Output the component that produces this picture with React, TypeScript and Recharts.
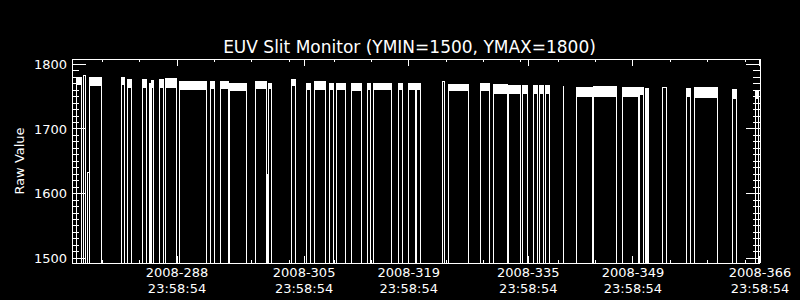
import React from 'react';
import { ComposedChart, Line, Area, XAxis, YAxis } from 'recharts';

// EUV slit monitor: white band segments, trace drops off-scale between them
const FLOOR = 1400;

// day of year 2008 (fractional) where each on-scale stretch starts / ends
const segStart = [
  275.54, 276.51, 277.08, 277.24, 281.5, 282.4, 284.44, 285.34, 285.52, 286.68,
  287.44, 289.36, 293.41, 294.75, 296.05, 299.44, 301.01, 301.18, 304.35, 306.36,
  307.43, 309.34, 310.38, 312.38, 314.43, 315.33, 318.67, 320.01, 321.08, 324.56,
  325.37, 329.65, 331.39, 333.4, 335.27, 336.65, 337.55, 338.35, 340.67, 342.41,
  344.69, 348.57, 350.9, 351.65, 354.02, 357.23, 358.3, 363.29, 366.37,
];
const segEnd = [
  276.2, 276.68, 277.22, 278.88, 281.9, 282.89, 284.9, 285.38, 285.78, 287.22,
  288.92, 292.93, 294.0, 295.88, 298.29, 300.96, 301.1, 301.58, 304.79, 306.85,
  308.81, 309.93, 311.49, 313.63, 314.89, 317.7, 319.17, 320.95, 321.62, 324.79,
  328.01, 330.82, 333.17, 334.97, 335.85, 337.24, 338.08, 338.85, 340.72, 344.55,
  347.82, 350.76, 351.47, 352.1, 354.46, 357.72, 361.34, 363.88, 366.83,
];
// upper / lower edge of the noisy band (raw value)
const segHi = [
  1779, 1782, 1632, 1779, 1780, 1777, 1777, 1770, 1775, 1777,
  1778, 1774, 1773, 1773, 1771, 1774, 1630, 1771, 1777, 1771,
  1774, 1771, 1771, 1771, 1771, 1771, 1771, 1771, 1771, 1773,
  1769, 1770, 1768, 1767, 1767, 1767, 1767, 1767, 1765, 1764,
  1765, 1764, 1764, 1762, 1764, 1763, 1764, 1761, 1758,
];
const segLo = [
  1768, 1782, 1632, 1766, 1768, 1763, 1763, 1770, 1763, 1763,
  1764, 1761, 1762, 1762, 1759, 1762, 1630, 1762, 1766, 1760,
  1760, 1760, 1761, 1759, 1760, 1760, 1760, 1760, 1760, 1773,
  1758, 1759, 1754, 1754, 1754, 1754, 1754, 1754, 1765, 1750,
  1750, 1750, 1752, 1400, 1764, 1750, 1748, 1747, 1746,
];

const majorDays = [288.999, 305.999, 319.999, 335.999, 349.999, 366.999];
const majorDates = ['2008-288', '2008-305', '2008-319', '2008-335', '2008-349', '2008-366'];
const majorTimes = ['23:58:54', '23:58:54', '23:58:54', '23:58:54', '23:58:54', '23:58:54'];
const minorDays = [279, 284, 294, 299, 304, 310, 315, 325, 330, 335, 340, 345, 355, 360, 365];

const yMajor = [1500, 1600, 1700, 1800];
const yMinor = [
  1510, 1520, 1530, 1540, 1550, 1560, 1570, 1580, 1590,
  1610, 1620, 1630, 1640, 1650, 1660, 1670, 1680, 1690,
  1710, 1720, 1730, 1740, 1750, 1760, 1770, 1780, 1790,
];

const X_DOMAIN = [274.94, 367.0];
const Y_DOMAIN = [1492.7, 1808.2];
const FONT = '"DejaVu Sans", Verdana, sans-serif';

const rows: { day: number; trace: number; band: number[] | null }[] = [];
segStart.forEach((s, i) => {
  const e = segEnd[i];
  const hi = segHi[i];
  const lo = segLo[i];
  rows.push({ day: s, trace: FLOOR, band: null });
  rows.push({ day: s, trace: hi, band: [lo, hi] });
  rows.push({ day: e, trace: hi, band: [lo, hi] });
  rows.push({ day: e, trace: FLOOR, band: null });
});

const xTicks = [...majorDays, ...minorDays].sort((a, b) => a - b);
const yTicks = [...yMajor, ...yMinor].sort((a, b) => a - b);

function BottomTick(props: any) {
  const { x, y, payload } = props;
  const i = majorDays.indexOf(payload.value);
  return (
    <g>
      <line x1={x} y1={y} x2={x} y2={y - (i >= 0 ? 7 : 3)} stroke="#fff" />
      {i >= 0 && (
        <text x={x} y={y} textAnchor="middle" fill="#fff" fontSize={13} fontFamily={FONT}>
          <tspan x={x} dy={14}>{majorDates[i]}</tspan>
          <tspan x={x} dy={15.5}>{majorTimes[i]}</tspan>
        </text>
      )}
    </g>
  );
}

function TopTick(props: any) {
  const { x, y, payload } = props;
  const major = majorDays.indexOf(payload.value) >= 0;
  return <line x1={x} y1={y} x2={x} y2={y + (major ? 7 : 3)} stroke="#fff" />;
}

function LeftTick(props: any) {
  const { x, y, payload } = props;
  const major = yMajor.indexOf(payload.value) >= 0;
  return (
    <g>
      <line x1={x} y1={y} x2={x + (major ? 14 : 7)} y2={y} stroke="#fff" />
      {major && (
        <text x={x - 5} y={y + 4.7} textAnchor="end" fill="#fff" fontSize={13} fontFamily={FONT}>
          {payload.value}
        </text>
      )}
    </g>
  );
}

function RightTick(props: any) {
  const { x, y, payload } = props;
  const major = yMajor.indexOf(payload.value) >= 0;
  return <line x1={x} y1={y} x2={x - (major ? 14 : 7)} y2={y} stroke="#fff" />;
}

export default function App() {
  return (
    <div
      style={{
        position: 'fixed',
        left: 0,
        top: 0,
        width: 800,
        height: 300,
        background: '#000',
        overflow: 'hidden',
      }}
    >
      <style>{'.recharts-surface path, .recharts-surface line { shape-rendering: crispEdges; }'}</style>
      <div
        style={{
          position: 'absolute',
          left: 0,
          width: 819,
          top: 37,
          textAlign: 'center',
          color: '#fff',
          fontFamily: FONT,
          fontSize: 17,
          lineHeight: '20px',
          whiteSpace: 'nowrap',
        }}
      >
        EUV Slit Monitor (YMIN=1500, YMAX=1800)
      </div>
      <div
        style={{
          position: 'absolute',
          left: 18.5,
          top: 161,
          transform: 'translate(-50%, -50%) rotate(-90deg)',
          color: '#fff',
          fontFamily: FONT,
          fontSize: 13,
          lineHeight: '13px',
          whiteSpace: 'nowrap',
        }}
      >
        Raw Value
      </div>
      <ComposedChart
        width={800}
        height={300}
        data={rows}
        margin={{ top: 0, right: 0, bottom: 0, left: 0 }}
        style={{ position: 'absolute', left: 0, top: 0 }}
      >
        <XAxis
          xAxisId="b"
          orientation="bottom"
          dataKey="day"
          type="number"
          domain={X_DOMAIN}
          allowDataOverflow
          ticks={xTicks}
          interval={0}
          height={37}
          tickSize={0}
          tickMargin={0}
          tickLine={false}
          axisLine={{ stroke: '#fff' }}
          tick={BottomTick}
        />
        <XAxis
          xAxisId="t"
          orientation="top"
          dataKey="day"
          type="number"
          domain={X_DOMAIN}
          allowDataOverflow
          ticks={xTicks}
          interval={0}
          height={59}
          tickSize={0}
          tickMargin={0}
          tickLine={false}
          axisLine={{ stroke: '#fff' }}
          tick={TopTick}
        />
        <YAxis
          yAxisId="l"
          orientation="left"
          type="number"
          domain={Y_DOMAIN}
          allowDataOverflow
          ticks={yTicks}
          interval={0}
          width={72}
          tickSize={0}
          tickMargin={0}
          tickLine={false}
          axisLine={{ stroke: '#fff' }}
          tick={LeftTick}
        />
        <YAxis
          yAxisId="r"
          orientation="right"
          type="number"
          domain={Y_DOMAIN}
          allowDataOverflow
          ticks={yTicks}
          interval={0}
          width={40}
          tickSize={0}
          tickMargin={0}
          tickLine={false}
          axisLine={{ stroke: '#fff' }}
          tick={RightTick}
        />
        <Area
          xAxisId="b"
          yAxisId="l"
          dataKey="band"
          type="linear"
          stroke="none"
          fill="#fff"
          fillOpacity={1}
          isAnimationActive={false}
        />
        <Line
          xAxisId="b"
          yAxisId="l"
          dataKey="trace"
          type="linear"
          stroke="#fff"
          strokeWidth={1}
          dot={false}
          activeDot={false}
          isAnimationActive={false}
        />
      </ComposedChart>
    </div>
  );
}
